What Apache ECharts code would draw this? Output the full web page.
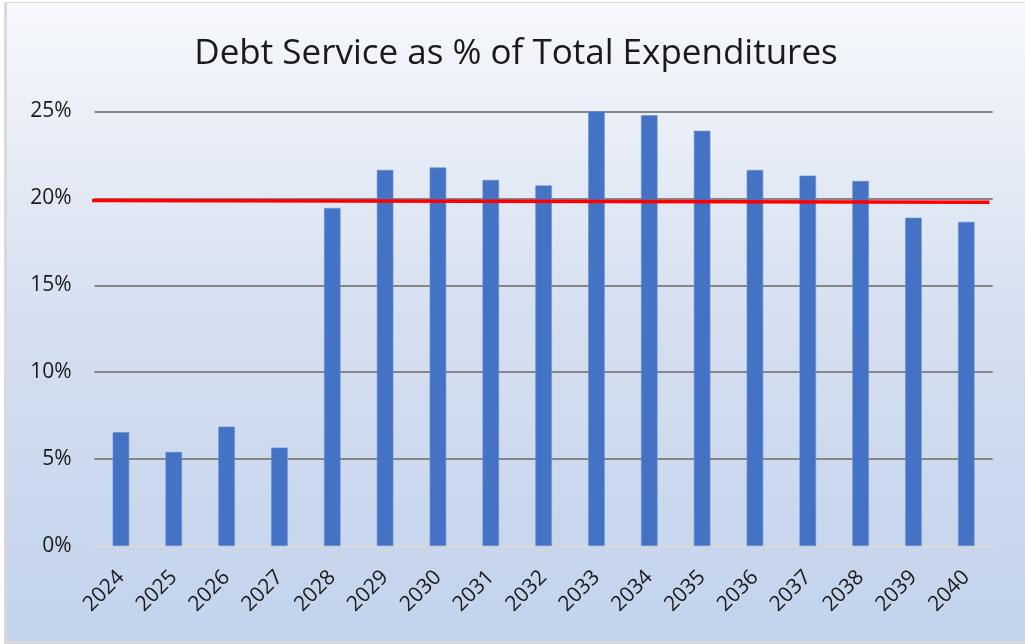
<!DOCTYPE html>
<html><head><meta charset="utf-8">
<script src="https://cdn.jsdelivr.net/npm/echarts@6/dist/echarts.min.js"></script>
<style>
html,body{margin:0;padding:0;background:#fff;}
#frame{position:absolute;left:0;top:0;width:1025px;height:644px;background:#fff;}
#bl{position:absolute;left:4px;top:2px;width:3px;height:642px;background:#d9d9d9;}
#bt{position:absolute;left:4px;top:2px;width:1021px;height:1px;background:#d9d9d9;}
#bb{position:absolute;left:4px;top:641px;width:1021px;height:3px;background:#d9d9d9;}
#c{position:absolute;left:0;top:0;width:1025px;height:644px;}
</style></head>
<body>
<div id="frame"></div>
<div id="c"></div>
<div id="bl"></div><div id="bt"></div><div id="bb"></div>
<script>
const title = 'Debt Service as % of Total Expenditures';
const years = ['2024','2025','2026','2027','2028','2029','2030','2031','2032','2033','2034','2035','2036','2037','2038','2039','2040'];
const debtPct = [6.55, 5.41, 6.87, 5.66, 19.45, 21.64, 21.78, 21.06, 20.74, 25.07, 24.79, 23.89, 21.64, 21.31, 21.0, 18.89, 18.65];
const refLine = [[-0.2, 19.88], [16.94, 19.78]];

const chart = echarts.init(document.getElementById('c'), null, {renderer:'canvas'});
chart.setOption({
  backgroundColor: 'transparent',
  graphic: [{
    type:'rect', z:-10, silent:true,
    shape:{x:7, y:3, width:1018, height:638},
    style:{fill:new echarts.graphic.LinearGradient(0,0,0,1,[
      {offset:0,color:'#f6f8fc'},{offset:0.5,color:'#d5dff0'},{offset:1,color:'#c2d3ec'}])}
  },{
    type:'text', silent:true, x:516, y:54,
    style:{text:title, align:'center', verticalAlign:'middle',
      font:'normal 35px "Open Sans"', fill:'#1a1a1a'}
  }],
  grid: {left:94.5, right:32.3, top:111.5, bottom:98, outerBoundsMode:'none', containLabel:false},
  xAxis: [{
    type:'category', data: years,
    axisLine:{show:true, lineStyle:{color:'#d9d9d9', width:2}},
    axisTick:{show:false},
    axisLabel:{rotate:45, interval:0, fontFamily:'Open Sans', fontSize:21, color:'#1a1a1a', margin:28}
  },{
    type:'value', min:0, max:17, show:false
  }],
  yAxis: {
    type:'value', min:0, max:25, interval:5,
    axisLine:{show:false}, axisTick:{show:false},
    splitLine:{lineStyle:{color:'#868686', width:2}},
    axisLabel:{formatter:v=>v+'%', fontFamily:'Open Sans', fontSize:21, color:'#1a1a1a', margin:23}
  },
  series: [{
    type:'bar', data: debtPct, barWidth:16.5, xAxisIndex:0,
    itemStyle:{color:'#4472c4', borderColor:'#6a8fd0', borderWidth:0.6},
    silent:true
  },{
    type:'line', xAxisIndex:1, data: refLine, symbol:'none', clip:false,
    lineStyle:{color:'#ff0000', width:3.5}, silent:true, z:5
  }],
  animation:false
});
</script>
</body></html>
